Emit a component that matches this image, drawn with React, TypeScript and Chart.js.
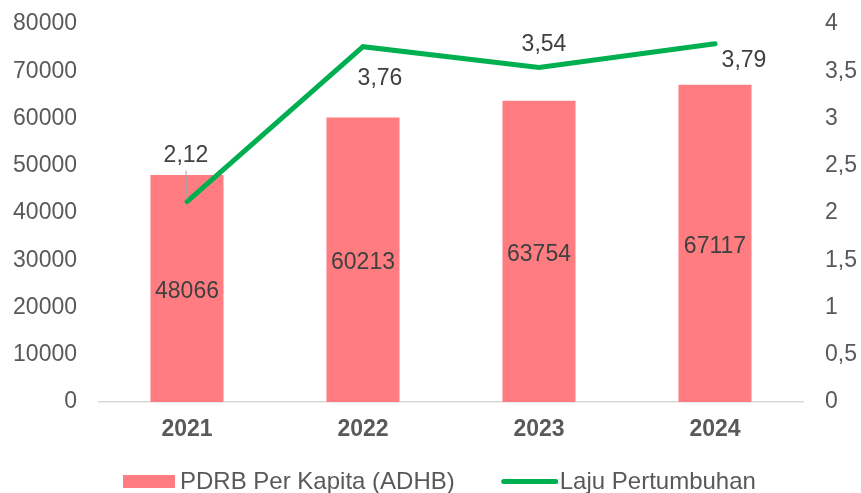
import React, { useEffect, useRef } from "react";
import { Chart, registerables } from "chart.js";

Chart.register(...registerables);

const years = ["2021", "2022", "2023", "2024"];
const pdrbPerKapita = [48066, 60213, 63754, 67117];
const lajuPertumbuhan = [2.12, 3.76, 3.54, 3.79];
const leftTicks = { min: 0, max: 80000, step: 10000 };
const rightTicks = { min: 0, max: 4, step: 0.5 };
const seriesNames = ["PDRB Per Kapita (ADHB)", "Laju Pertumbuhan"];

// label placement offsets (style, relative to the point)
const lineLabelOffsets: [number, number][] = [
  [-1, -46],
  [17, 32],
  [5, -23],
  [29, 17],
];

const FONT = '"Liberation Sans", Arial, sans-serif';
const BAR_COLOR = "#FF7C80";
const LINE_COLOR = "#00B050";
const TEXT_COLOR = "#595959";
const LABEL_COLOR = "#404040";

const fmtComma = (v: number, d?: number) =>
  (d === undefined ? String(v) : v.toFixed(d)).replace(".", ",");

const labelPlugin = {
  id: "valueLabels",
  afterDatasetsDraw(chart: any) {
    const ctx = chart.ctx;
    ctx.save();
    ctx.font = `23px ${FONT}`;
    ctx.fillStyle = LABEL_COLOR;
    ctx.textAlign = "center";
    ctx.textBaseline = "middle";
    const barMeta = chart.getDatasetMeta(0);
    barMeta.data.forEach((el: any, i: number) => {
      const p = el.getProps(["x", "y", "base"], true);
      ctx.fillText(String(pdrbPerKapita[i]), p.x, (p.y + p.base) / 2 + 3);
    });
    const lineMeta = chart.getDatasetMeta(1);
    lineMeta.data.forEach((el: any, i: number) => {
      const [dx, dy] = lineLabelOffsets[i];
      const lx = el.x + dx;
      const ly = el.y + dy;
      if (i === 0) {
        ctx.save();
        ctx.strokeStyle = "#a6a6a6";
        ctx.lineWidth = 1;
        ctx.beginPath();
        ctx.moveTo(lx, ly + 15);
        ctx.lineTo(el.x, el.y - 2);
        ctx.stroke();
        ctx.restore();
      }
      ctx.fillStyle = LABEL_COLOR;
      ctx.fillText(fmtComma(lajuPertumbuhan[i], 2), lx, ly);
    });
    ctx.restore();
  },
};

const legendPlugin = {
  id: "customLegend",
  afterDraw(chart: any) {
    const ctx = chart.ctx;
    ctx.save();
    ctx.font = `24px ${FONT}`;
    ctx.textBaseline = "middle";
    ctx.textAlign = "left";
    const cy = 481.5;
    let x = 123;
    // bar item
    ctx.fillStyle = BAR_COLOR;
    ctx.fillRect(x, cy - 6.5, 52, 13);
    x += 57;
    ctx.fillStyle = TEXT_COLOR;
    ctx.fillText(seriesNames[0], x, cy + 1);
    x += ctx.measureText(seriesNames[0]).width + 47;
    // line item
    ctx.strokeStyle = LINE_COLOR;
    ctx.lineWidth = 5;
    ctx.lineCap = "round";
    ctx.beginPath();
    ctx.moveTo(x + 2, cy);
    ctx.lineTo(x + 54, cy);
    ctx.stroke();
    x += 58;
    ctx.fillStyle = TEXT_COLOR;
    ctx.fillText(seriesNames[1], x, cy + 1);
    ctx.restore();
  },
};

export default function App() {
  const canvasRef = useRef<HTMLCanvasElement | null>(null);

  useEffect(() => {
    if (!canvasRef.current) return;
    const chart = new Chart(canvasRef.current, {
      type: "bar",
      data: {
        labels: years,
        datasets: [
          {
            type: "bar",
            label: seriesNames[0],
            data: pdrbPerKapita,
            backgroundColor: BAR_COLOR,
            yAxisID: "y",
            categoryPercentage: 0.415,
            barPercentage: 1,
            order: 2,
          },
          {
            type: "line",
            label: seriesNames[1],
            data: lajuPertumbuhan,
            borderColor: LINE_COLOR,
            backgroundColor: LINE_COLOR,
            borderWidth: 5,
            pointRadius: 0,
            pointHoverRadius: 0,
            borderCapStyle: "round",
            tension: 0,
            yAxisID: "y1",
            order: 1,
          } as any,
        ],
      },
      options: {
        responsive: false,
        animation: false,
        layout: { padding: { top: 24, left: 0, right: 0, bottom: 0 } },
        plugins: {
          legend: { display: false },
          tooltip: { enabled: false },
        },
        scales: {
          x: {
            grid: { display: false, drawTicks: false },
            border: { display: true, color: "#d9d9d9", width: 1.5 },
            ticks: {
              color: TEXT_COLOR,
              font: { family: FONT, size: 23, weight: "bold" },
              padding: 14,
            },
            afterFit: (s: any) => {
              s.height = 91;
              s.paddingLeft = 0;
              s.paddingRight = 0;
            },
          },
          y: {
            position: "left",
            min: leftTicks.min,
            max: leftTicks.max,
            grid: { display: false, drawTicks: false },
            border: { display: false },
            ticks: {
              stepSize: leftTicks.step,
              color: TEXT_COLOR,
              font: { family: FONT, size: 23 },
              padding: 22,
              callback: (v: any) => String(v),
            },
            afterFit: (s: any) => {
              s.width = 99;
              s.paddingTop = 0;
              s.paddingBottom = 0;
            },
          },
          y1: {
            position: "right",
            min: rightTicks.min,
            max: rightTicks.max,
            grid: { display: false, drawTicks: false },
            border: { display: false },
            ticks: {
              stepSize: rightTicks.step,
              color: TEXT_COLOR,
              font: { family: FONT, size: 23 },
              padding: 22,
              callback: (v: any) => fmtComma(Number(v)),
            },
            afterFit: (s: any) => {
              s.width = 58;
              s.paddingTop = 0;
              s.paddingBottom = 0;
            },
          },
        },
      } as any,
      plugins: [labelPlugin, legendPlugin],
    });
    return () => chart.destroy();
  }, []);

  return (
    <div style={{ position: "absolute", left: 0, top: 0, width: 861, height: 493, background: "#fff" }}>
      <canvas ref={canvasRef} width={861} height={493} style={{ width: 861, height: 493, display: "block" }} />
    </div>
  );
}
